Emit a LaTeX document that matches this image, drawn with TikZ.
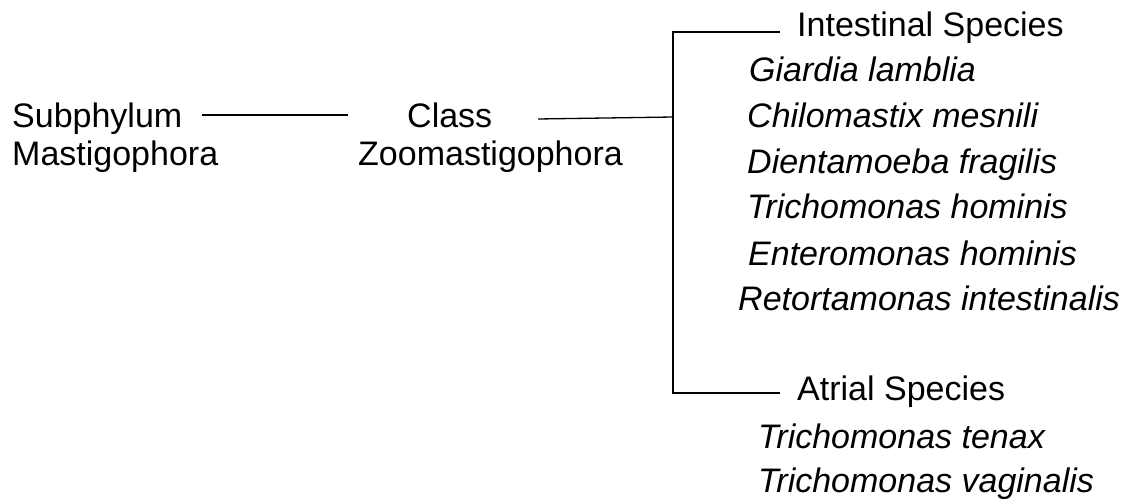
\documentclass[tikz,border=0pt]{standalone}
\usepackage{fontspec}
\setmainfont{Liberation Sans}
\usetikzlibrary{calc}
\begin{document}
\begin{tikzpicture}[x=1pt,y=-1pt,
		lbl/.style={anchor=base west,inner sep=0pt,font=\fontsize{34}{40}\selectfont},
		species/.style={lbl,font=\fontsize{34}{40}\selectfont\itshape},
		branch/.style={line width=1.3pt}]
		\useasboundingbox (0,0) rectangle (1134,500);
		\node[lbl] (sub) at (12,128) {Subphylum};
		\node[lbl] (mast) at (12,165) {Mastigophora};
		\node[lbl] (cls) at (407,128) {Class};
		\node[lbl] (zoo) at (358,165) {Zoomastigophora};
		\node[lbl] (intest) at (797,37) {Intestinal Species};
		\node[species] (giar) at (749,82) {Giardia lamblia};
		\node[species] (chilo) at (747,128) {Chilomastix mesnili};
		\node[species] (dient) at (747,173) {Dientamoeba fragilis};
		\node[species] (trhom) at (747,218) {Trichomonas hominis};
		\node[species] (enter) at (748,265) {Enteromonas hominis};
		\node[species] (retor) at (738,310) {Retortamonas intestinalis};
		\node[lbl] (atrial) at (797,400) {Atrial Species};
		\node[species] (tenax) at (758,448) {Trichomonas tenax};
		\node[species] (vagin) at (758,492) {Trichomonas vaginalis};
		\coordinate (J) at (673,117);
		\coordinate (I) at ($(intest.base west)+(-17,-5)$);
		\coordinate (A) at ($(atrial.base west)+(-17,-7)$);
		\draw[branch] ($(sub.base east)+(19,-13)$) -- ($(cls.base west)+(-59,-13)$);
		\draw[branch] ($(cls.base west)+(131,-9)$) -- (J);
		\draw[branch] (I) -| (J) |- (A);
	\end{tikzpicture}
\end{document}
